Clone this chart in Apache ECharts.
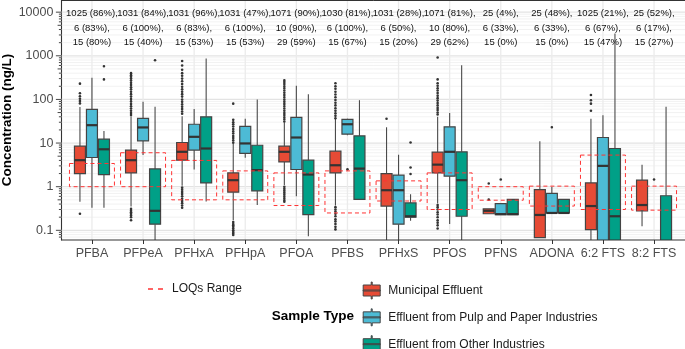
<!DOCTYPE html>
<html><head><meta charset="utf-8">
<script src="https://cdn.jsdelivr.net/npm/echarts@6/dist/echarts.min.js"></script>
<style>html,body{margin:0;padding:0;background:#fff}#c{width:685px;height:349px}</style>
</head><body><div id="c"></div>
<script>
// ---------------- data ----------------
const categories = ['PFBA','PFPeA','PFHxA','PFHpA','PFOA','PFBS','PFHxS','PFOS','PFNS','ADONA','6:2 FTS','8:2 FTS'];
const sampleTypes = ['Municipal Effluent','Effluent from Pulp and Paper Industries','Effluent from Other Industries'];
const sampleColors = ['#E64B35','#4DBBD5','#00A087'];

// box stats per category: [lower whisker, Q1, median, Q3, upper whisker] (ng/L)
const municipalBoxes = [
  [0.45, 2.0, 4.05, 8.5, 67],
  [0.35, 2.07, 4.05, 6.9, 41],
  [1.05, 4.05, 6.3, 10.3, 41],
  [0.17, 0.75, 1.41, 2.07, 9.5],
  [1.1, 3.7, 6.3, 8.5, 29],
  [0.37, 2.07, 3.1, 6.5, 36],
  [0.03, 0.36, 0.83, 2.0, 23],
  [0.41, 2.07, 3.2, 6.2, 40],
  [0.24, 0.24, 0.28, 0.31, 0.31],
  [0.068, 0.068, 0.225, 0.86, 11],
  [0.03, 0.104, 0.36, 1.22, 36],
  [0.124, 0.28, 0.38, 1.41, 3.2]
];
const pulpBoxes = [
  [0.33, 4.67, 25.7, 59, 313],
  [5.3, 11.2, 22.8, 36.7, 88],
  [2.48, 6.9, 13.9, 27, 60],
  [4.6, 5.8, 9.8, 24, 36],
  [0.6, 2.48, 13.4, 38.6, 205],
  [15, 16, 27, 35, 36],
  [0.03, 0.138, 0.83, 1.84, 5.4],
  [0.14, 1.74, 6.3, 23.6, 49],
  [0.23, 0.23, 0.235, 0.41, 0.41],
  [0.25, 0.25, 0.25, 0.7, 1.0],
  [0.02, 0.03, 3.0, 13.4, 43.6],
  null
];
const otherBoxes = [
  [0.33, 1.9, 7.2, 12.3, 19],
  [0.03, 0.138, 0.28, 2.56, 68],
  [0.46, 1.22, 7.5, 40, 870],
  [0.38, 0.8, 2.4, 8.9, 100],
  [0.073, 0.23, 1.9, 4.05, 132],
  [0.51, 0.51, 2.6, 14.6, 96],
  [0.165, 0.2, 0.21, 0.425, 0.67],
  [0.03, 0.21, 1.41, 6.3, 610],
  [0.23, 0.23, 0.235, 0.51, 0.51],
  [0.25, 0.25, 0.25, 0.51, 0.51],
  [0.02, 0.03, 0.21, 7.5, 3250],
  [0.02, 0.025, 0.03, 0.62, 68]
];

// outliers per category (ng/L)
const municipalOutliers = [
  [230, 138, 118, 104, 92, 81, 0.24],
  [400, 360, 330, 300, 270, 240, 215, 190, 170, 150, 132, 116, 102, 90, 79, 70, 62, 55, 49, 44, 0.31, 0.28, 0.26, 0.24, 0.22, 0.2, 0.17],
  [760, 600, 480, 400, 350, 300, 260, 225, 195, 170, 150, 132, 116, 100, 88, 77, 68, 60, 53, 47, 0.95, 0.85, 0.76, 0.68, 0.6, 0.53, 0.47, 0.42, 0.37, 0.33],
  [80, 34, 30, 27, 24, 21, 18.5, 16.5, 14.5, 13, 11.5, 10.2, 0.155, 0.14, 0.13, 0.12, 0.11, 0.1, 0.092, 0.085, 0.078],
  [276, 250, 225, 200, 180, 160, 142, 126, 112, 100, 89, 79, 70, 62, 55, 49, 44, 39, 35, 31, 1.0, 0.9, 0.82, 0.74, 0.67, 0.6, 0.54, 0.49, 0.45],
  [234, 200, 175, 150, 130, 112, 97, 84, 73, 63, 55, 48, 42, 37, 0.34, 0.3, 0.27, 0.24, 0.21, 0.18, 0.16, 0.14, 0.12, 0.105],
  [36],
  [915, 288, 235, 205, 180, 160, 140, 122, 107, 94, 83, 73, 64, 57, 50, 45, 0.38, 0.34, 0.3, 0.26, 0.23, 0.2, 0.17, 0.15, 0.13, 0.11],
  [1.18, 0.51],
  [],
  [126, 96, 80, 55],
  []
];
const pulpOutliers = [[], [], [], [], [], [2.5], [], [], [1.46], [23], [], [1.46]];
const otherOutliers = [[575, 288], [790], [], [], [], [], [10.3, 2.75, 1.95], [], [], [], [], []];

// LOQ range per category (ng/L)
const loqLow  = [1, 1, 0.5, 0.5, 0.37, 0.25, 0.47, 0.3, 0.49, 0.36, 0.3, 0.29];
const loqHigh = [3.4, 6, 4, 2.3, 2.07, 2.3, 1.36, 2.07, 1.0, 1.03, 5.3, 1.03];

// sample counts (detection frequency) shown above each compound
const countsMunicipal = ['1025 (86%),','1031 (84%),','1031 (96%),','1031 (47%),','1071 (90%),','1030 (81%),','1031 (28%),','1071 (81%),','25 (4%),','25 (48%),','1025 (21%),','25 (52%),'];
const countsPulp      = ['6 (83%),','6 (100%),','6 (83%),','6 (100%),','10 (90%),','6 (100%),','6 (50%),','10 (80%),','6 (33%),','6 (33%),','6 (67%),','6 (17%),'];
const countsOther     = ['15 (80%)','15 (40%)','15 (53%)','15 (53%)','29 (59%)','15 (67%)','15 (20%)','29 (62%)','15 (0%)','15 (0%)','15 (47%)','15 (27%)'];

// y axis
const yMin = 0.06, yMax = 19000;
const yMajorTicks = [0.1, 1, 10, 100, 1000, 10000];
const yMinorSteps = [2, 3, 4, 5, 6, 7, 8, 9];

// ---------------- layout/styles ----------------
const FONT = '"Liberation Sans", Arial, Helvetica, sans-serif';
const GRID_LEFT = 66.4, GRID_RIGHT = 5.4, GRID_TOP = 0, GRID_BOTTOM = 109;
const Y_OFFSET = 5;
const DODGE = 0.235, BOXW = 0.215, LOQW = 0.88;

const minorVals = [];
yMajorTicks.concat([0.01]).forEach(m => yMinorSteps.forEach(s => {
  const v = m * s; if (v > yMin && v < yMax) minorVals.push(v);
}));

function groupCx(api, cat, g) {
  const band = api.size([1, 0])[0];
  return { cx: api.coord([cat, 1])[0] + (g - 1) * band * DODGE, band: band };
}

function boxSeries(g, boxes) {
  return {
    type: 'custom', name: sampleTypes[g], z: 3, clip: true, silent: true,
    itemStyle: { color: sampleColors[g] },
    encode: { x: 0, y: [1, 2, 3, 4, 5] },
    data: boxes.map((b, i) => b ? [i].concat(b) : null).filter(d => d),
    renderItem: function (params, api) {
      const cat = api.value(0);
      const p = groupCx(api, cat, g);
      const cx = p.cx, w = p.band * BOXW;
      const Y = k => api.coord([cat, api.value(k)])[1];
      const lo = Y(1), q1 = Y(2), md = Y(3), q3 = Y(4), hi = Y(5);
      const ws = { stroke: '#4a4a4a', lineWidth: 1.1 };
      return { type: 'group', children: [
        { type: 'line', shape: { x1: cx, y1: hi, x2: cx, y2: q3 }, style: ws },
        { type: 'line', shape: { x1: cx, y1: q1, x2: cx, y2: lo }, style: ws },
        { type: 'rect', shape: { x: cx - w / 2, y: q3, width: w, height: Math.max(q1 - q3, 0.5) },
          style: { fill: sampleColors[g], stroke: '#444', lineWidth: 1.2 } },
        { type: 'line', shape: { x1: cx - w / 2, y1: md, x2: cx + w / 2, y2: md }, style: { stroke: '#333', lineWidth: 2.2 } }
      ]};
    }
  };
}

function outlierSeries(g, outs) {
  const data = [];
  outs.forEach((arr, i) => arr.forEach(v => data.push([i, v])));
  return {
    type: 'custom', name: sampleTypes[g], z: 4, clip: true, silent: true,
    itemStyle: { color: sampleColors[g] },
    encode: { x: 0, y: 1 }, data: data,
    renderItem: function (params, api) {
      const cat = api.value(0);
      const p = groupCx(api, cat, g);
      const y = api.coord([cat, api.value(1)])[1];
      return { type: 'circle', shape: { cx: p.cx, cy: y, r: 1.3 }, style: { fill: '#333' } };
    }
  };
}

const series = [
  // background gridlines (horizontal)
  {
    type: 'custom', name: 'hgrid', z: 1, silent: true, clip: false,
    encode: { x: 0, y: 1 },
    data: yMajorTicks.map(v => [0, v, 1]).concat(minorVals.map(v => [0, v, 0])),
    renderItem: function (params, api) {
      const cs = params.coordSys;
      const y = api.coord([0, api.value(1)])[1];
      const major = api.value(2) === 1;
      return { type: 'line', shape: { x1: cs.x - Y_OFFSET, y1: y, x2: cs.x + cs.width + GRID_RIGHT, y2: y },
        style: { stroke: major ? '#e3e3e3' : '#efefef', lineWidth: major ? 1.3 : 0.8 } };
    }
  },
  // vertical gridlines
  {
    type: 'custom', name: 'vgrid', z: 1, silent: true, clip: false,
    encode: { x: 0, y: 1 },
    data: categories.map((c, i) => [i, 1]),
    renderItem: function (params, api) {
      const cs = params.coordSys;
      const x = api.coord([api.value(0), 1])[0];
      return { type: 'line', shape: { x1: x, y1: cs.y, x2: x, y2: cs.y + cs.height },
        style: { stroke: '#ebebeb', lineWidth: 1.3 } };
    }
  },
  boxSeries(0, municipalBoxes),
  boxSeries(1, pulpBoxes),
  boxSeries(2, otherBoxes),
  outlierSeries(0, municipalOutliers),
  outlierSeries(1, pulpOutliers),
  outlierSeries(2, otherOutliers),
  // LOQ ranges
  {
    type: 'custom', name: 'LOQs Range', z: 5, silent: true, clip: true,
    itemStyle: { color: '#FF3333' },
    encode: { x: 0, y: [1, 2] },
    data: categories.map((c, i) => [i, loqLow[i], loqHigh[i]]),
    renderItem: function (params, api) {
      const cat = api.value(0);
      const band = api.size([1, 0])[0];
      const cx = api.coord([cat, 1])[0];
      const yl = api.coord([cat, api.value(1)])[1], yh = api.coord([cat, api.value(2)])[1];
      const w = band * LOQW;
      return { type: 'rect', shape: { x: cx - w / 2, y: yh, width: w, height: yl - yh },
        style: { fill: 'none', stroke: '#FF3333', lineWidth: 1, lineDash: [4, 3] } };
    }
  },
  // count annotations
  {
    type: 'custom', name: 'counts', z: 6, silent: true, clip: false,
    encode: { x: 0, y: 1 },
    data: categories.map((c, i) => [i, 1]),
    renderItem: function (params, api) {
      const i = api.value(0);
      const cx = api.coord([i, 1])[0];
      const txt = [countsMunicipal[i], countsPulp[i], countsOther[i]].join('\n');
      return { type: 'text', x: cx, y: params.coordSys.y + 6.5,
        style: { text: txt, align: 'center', verticalAlign: 'top', textAlign: 'center', textVerticalAlign: 'top',
          fontSize: 9.5, fontFamily: FONT, lineHeight: 14.3, fill: '#111' } };
    }
  },
  // log ticks on the y axis
  {
    type: 'custom', name: 'logticks', z: 7, silent: true, clip: false,
    encode: { x: 0, y: 1 },
    data: yMajorTicks.map(v => [0, v, 2]).concat(minorVals.map(v => [0, v, (Math.abs(v / Math.pow(10, Math.floor(Math.log10(v) + 1e-9)) - 5) < 1e-6) ? 1 : 0])),
    renderItem: function (params, api) {
      const ax = params.coordSys.x - Y_OFFSET;
      const y = api.coord([0, api.value(1)])[1];
      const len = [2.5, 3.8, 5.5][api.value(2)];
      return { type: 'line', shape: { x1: ax - len, y1: y, x2: ax, y2: y }, style: { stroke: '#333', lineWidth: 0.9 } };
    }
  },
  // panel top & bottom border
  {
    type: 'custom', name: 'frame', z: 7, silent: true, clip: false,
    encode: { x: 0, y: 1 },
    data: [[0, 1]],
    renderItem: function (params, api) {
      const cs = params.coordSys;
      const x1 = cs.x - Y_OFFSET, x2 = cs.x + cs.width + GRID_RIGHT;
      return { type: 'group', children: [
        { type: 'line', shape: { x1: x1, y1: cs.y + 0.5, x2: x2, y2: cs.y + 0.5 }, style: { stroke: '#333', lineWidth: 1 } },
        { type: 'line', shape: { x1: x1, y1: cs.y + cs.height, x2: x2, y2: cs.y + cs.height }, style: { stroke: '#333', lineWidth: 1.1 } }
      ]};
    }
  }
];

function fmtY(v) {
  const l = Math.log10(v);
  if (Math.abs(l - Math.round(l)) > 1e-6) return '';
  const r = Math.round(l);
  return r >= 0 ? String(Math.round(Math.pow(10, r))) : String(+Math.pow(10, r).toPrecision(1));
}

const boxIcon = 'path://M8,0H9V3H17V14H9V17H8V14H0V3H8Z M0,8H17V9H0Z';

const option = {
  animation: false,
  backgroundColor: '#ffffff',
  textStyle: { fontFamily: FONT },
  grid: { left: GRID_LEFT, right: GRID_RIGHT, top: GRID_TOP, bottom: GRID_BOTTOM, containLabel: false, outerBoundsMode: 'none' },
  xAxis: {
    type: 'category', data: categories, boundaryGap: true,
    axisLine: { show: false },
    axisTick: { show: true, alignWithLabel: true, length: 4, lineStyle: { color: '#333' } },
    axisLabel: { color: '#4d4d4d', fontSize: 12.5, margin: 7.5, interval: 0, fontFamily: FONT },
    splitLine: { show: false }
  },
  yAxis: {
    type: 'log', logBase: 10, min: yMin, max: yMax, offset: Y_OFFSET,
    axisLine: { show: true, lineStyle: { color: '#333', width: 1.1 } },
    axisTick: { show: false }, splitLine: { show: false }, minorTick: { show: false }, minorSplitLine: { show: false },
    axisLabel: { color: '#4d4d4d', fontSize: 12.5, margin: 8, formatter: fmtY, fontFamily: FONT, showMinLabel: true, showMaxLabel: true },
    name: 'Concentration (ng/L)', nameLocation: 'middle', nameGap: 47, nameMoveOverlap: false,
    nameTextStyle: { fontWeight: 'bold', fontSize: 13.5, color: '#000', fontFamily: FONT }
  },
  legend: [
    {
      selectedMode: false, left: 148, top: 283, orient: 'horizontal', padding: 0, height: 20,
      itemWidth: 15, itemHeight: 1.5,
      data: [{ name: 'LOQs Range', icon: 'path://M0,0H5V1.5H0Z M10,0H15V1.5H10Z', itemStyle: { color: '#FF3333', borderWidth: 0 } }],
      textStyle: { color: '#1a1a1a', fontSize: 12, fontFamily: FONT, padding: [0, 0, 0, 4] }
    },
    {
      selectedMode: false, left: 362.7, top: 281.5, orient: 'vertical', padding: 0, height: 90, width: 320,
      itemWidth: 17, itemHeight: 17, itemGap: 8.85,
      data: sampleTypes.map(n => ({ name: n, icon: boxIcon })),
      itemStyle: { borderColor: '#444', borderWidth: 1 },
      textStyle: { color: '#1a1a1a', fontSize: 12, fontFamily: FONT, padding: [0, 0, 0, 3] }
    }
  ],
  graphic: [
    { type: 'text', x: 354, y: 316,
      style: { text: 'Sample Type', align: 'right', verticalAlign: 'middle', textAlign: 'right', textVerticalAlign: 'middle',
        fontSize: 13.5, fontWeight: 'bold', fontFamily: FONT, fill: '#000' } }
  ],
  series: series
};

const chart = echarts.init(document.getElementById('c'), null, { renderer: 'canvas', width: 685, height: 349 });
chart.setOption(option);
</script>
</body></html>
